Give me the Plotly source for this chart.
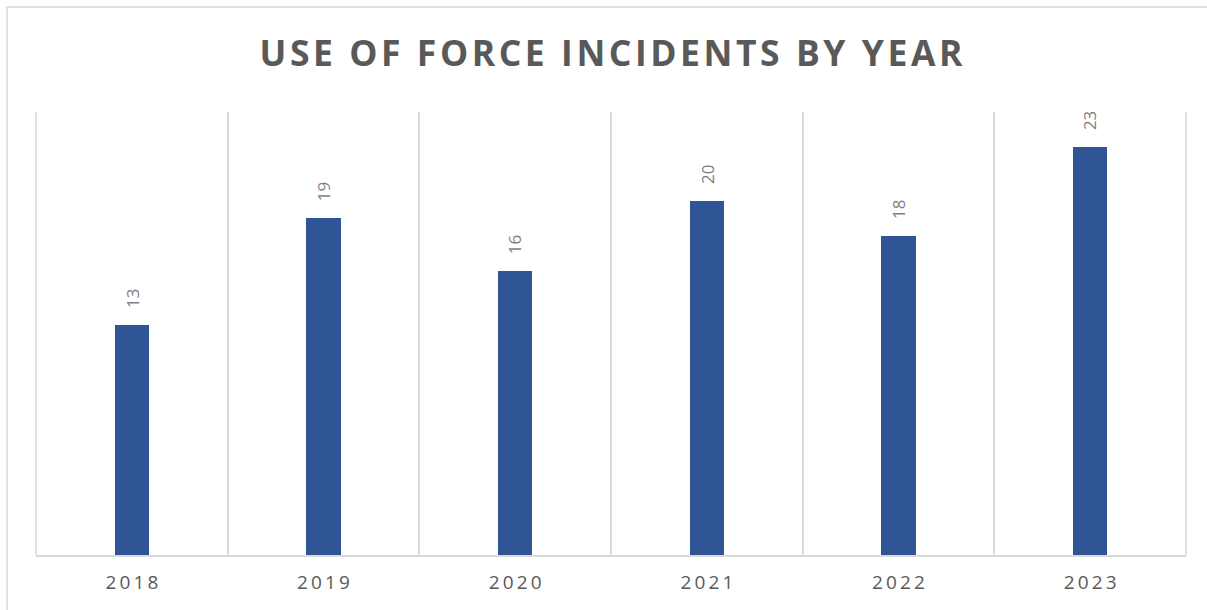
import plotly.graph_objects as go

years = ["2018", "2019", "2020", "2021", "2022", "2023"]
incidents = [13, 19, 16, 20, 18, 23]
title_text = "USE OF FORCE INCIDENTS BY YEAR"

def spaced(s, sep="\u2009"):
    return sep.join(list(s))

W, H = 1207, 610
L, R, T, B = 36, 21, 112, 55
pw, ph = W - L - R, H - T - B

year_labels = [spaced(y) for y in years]

fig = go.Figure()
fig.add_trace(go.Bar(
    x=year_labels, y=incidents, width=0.18,
    marker=dict(color="#2F5597", line=dict(width=0)),
    hoverinfo="x+y",
))

for lab, v in zip(year_labels, incidents):
    fig.add_annotation(
        x=lab, y=v, text=str(v), textangle=-90, showarrow=False,
        yanchor="bottom", xanchor="center", yshift=15,
        font=dict(family="Open Sans", size=17, color="#7F7F7F"),
    )

# outer chart border (partially cropped in the reference)
fig.add_shape(
    type="rect", xref="paper", yref="paper",
    x0=(7 - L) / pw, x1=(W + 10 - L) / pw,
    y0=-(H + 10 - (T + ph)) / ph, y1=(T + ph - 7) / ph,
    line=dict(color="#D9D9D9", width=1.5), fillcolor="rgba(0,0,0,0)", layer="below",
)
# left / right edge gridlines of the plot area
for xe in (0, 1):
    fig.add_shape(type="line", xref="paper", yref="paper", x0=xe, x1=xe, y0=0, y1=1,
                  line=dict(color="#D9D9D9", width=1.5), layer="below")

fig.update_layout(
    width=W, height=H,
    margin=dict(l=L, r=R, t=T, b=B, pad=0, autoexpand=False),
    paper_bgcolor="white", plot_bgcolor="white",
    showlegend=False,
    bargap=0,
    title=dict(
        text=spaced(title_text, "\u200A"),
        x=(L + pw / 2) / W, xanchor="center",
        y=1 - 54 / H, yanchor="middle",
        font=dict(family="Open Sans", size=35.5, color="#595959", weight="bold"),
    ),
    xaxis=dict(
        type="category", tickson="boundaries",
        range=[-0.5, len(years) - 0.5],
        showgrid=True, gridcolor="#D9D9D9", gridwidth=1.5,
        showline=True, linecolor="#D9D9D9", linewidth=1.5,
        ticks="", tickangle=0,
        tickfont=dict(family="Open Sans", size=19, color="#595959"),
        ticklabelstandoff=9,
        zeroline=False, automargin=False,
    ),
    yaxis=dict(
        range=[0, 25], visible=False, showgrid=False, zeroline=False,
    ),
)

fig.write_html("out.html", config={"displayModeBar": False},
               post_script="document.body.style.margin='0';")
